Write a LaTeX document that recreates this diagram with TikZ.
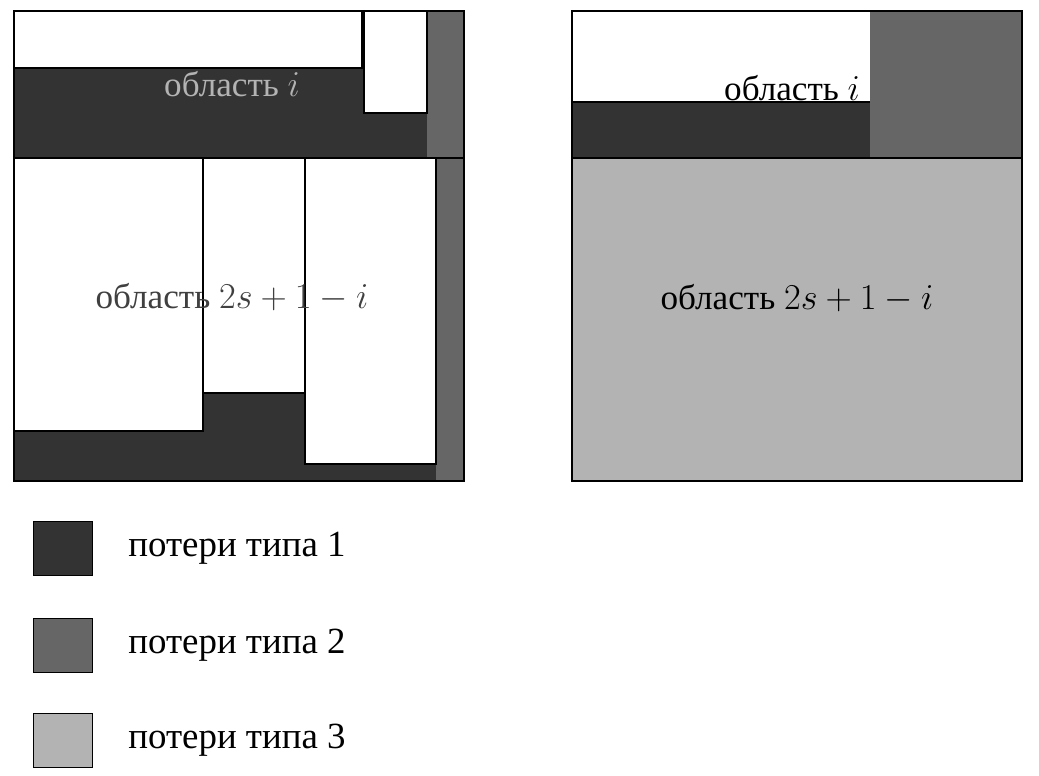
\documentclass[tikz,border=0pt]{standalone}
\usepackage{fontspec}
\setmainfont{Liberation Serif}
\definecolor{lossA}{HTML}{333333}
\definecolor{lossB}{HTML}{666666}
\definecolor{lossC}{HTML}{B3B3B3}
\tikzset{
  frame/.style={draw=black, thick},
  piece/.style={draw=black, thick, fill=white},
  regtext/.style={font=\fontsize{20}{24}\selectfont, inner sep=0pt},
  legtext/.style={font=\fontsize{21}{25}\selectfont, anchor=west, inner sep=0pt}
}
\begin{document}
\begin{tikzpicture}[x=0.02cm, y=-0.02cm]
			\useasboundingbox (0,0) rectangle (1039,776);

			% left square
			\fill[lossA] (14,11) rectangle (427,158);
			\fill[lossB] (427,11) rectangle (464,158);
			\draw[piece] (14,11) rectangle (362,68);
			\draw[piece] (364,11) rectangle (427,113);
			\fill[lossA] (14,158) rectangle (436,481);
			\fill[lossB] (436,158) rectangle (464,481);
			\draw[piece] (14,158) rectangle (203,431);
			\draw[piece] (203,158) rectangle (305,393);
			\draw[piece] (305,158) rectangle (436,464);
			\draw[frame] (14,11) rectangle (464,481);
			\draw[frame] (14,158) -- (464,158);
			\node[regtext, text=lossC] (li) at (232,84) {область $i$};
			\node[regtext, text=black!75] (lr) at (232,297) {область $2s+1-i$};

			% right square
			\fill[white] (572,11) rectangle (870,102);
			\fill[lossA] (572,102) rectangle (870,158);
			\fill[lossB] (870,11) rectangle (1022,158);
			\fill[lossC] (572,158) rectangle (1022,481);
			\draw[thick] (572,102) -- (870,102);
			\draw[frame] (572,11) rectangle (1022,481);
			\draw[frame] (572,158) -- (1022,158);
			\node[regtext] (ri) at (792,88) {область $i$};
			\node[regtext] (rr) at (797,298) {область $2s+1-i$};

			% legend
			\foreach \c/\y/\n in {lossA/548/1, lossB/645/2, lossC/740/3} {
			\draw[fill=\c] (33,\y-27) rectangle (92,\y+27);
			\node[legtext] (leg\n) at (128,\y) {потери типа \n}; }
		\end{tikzpicture}
\end{document}
